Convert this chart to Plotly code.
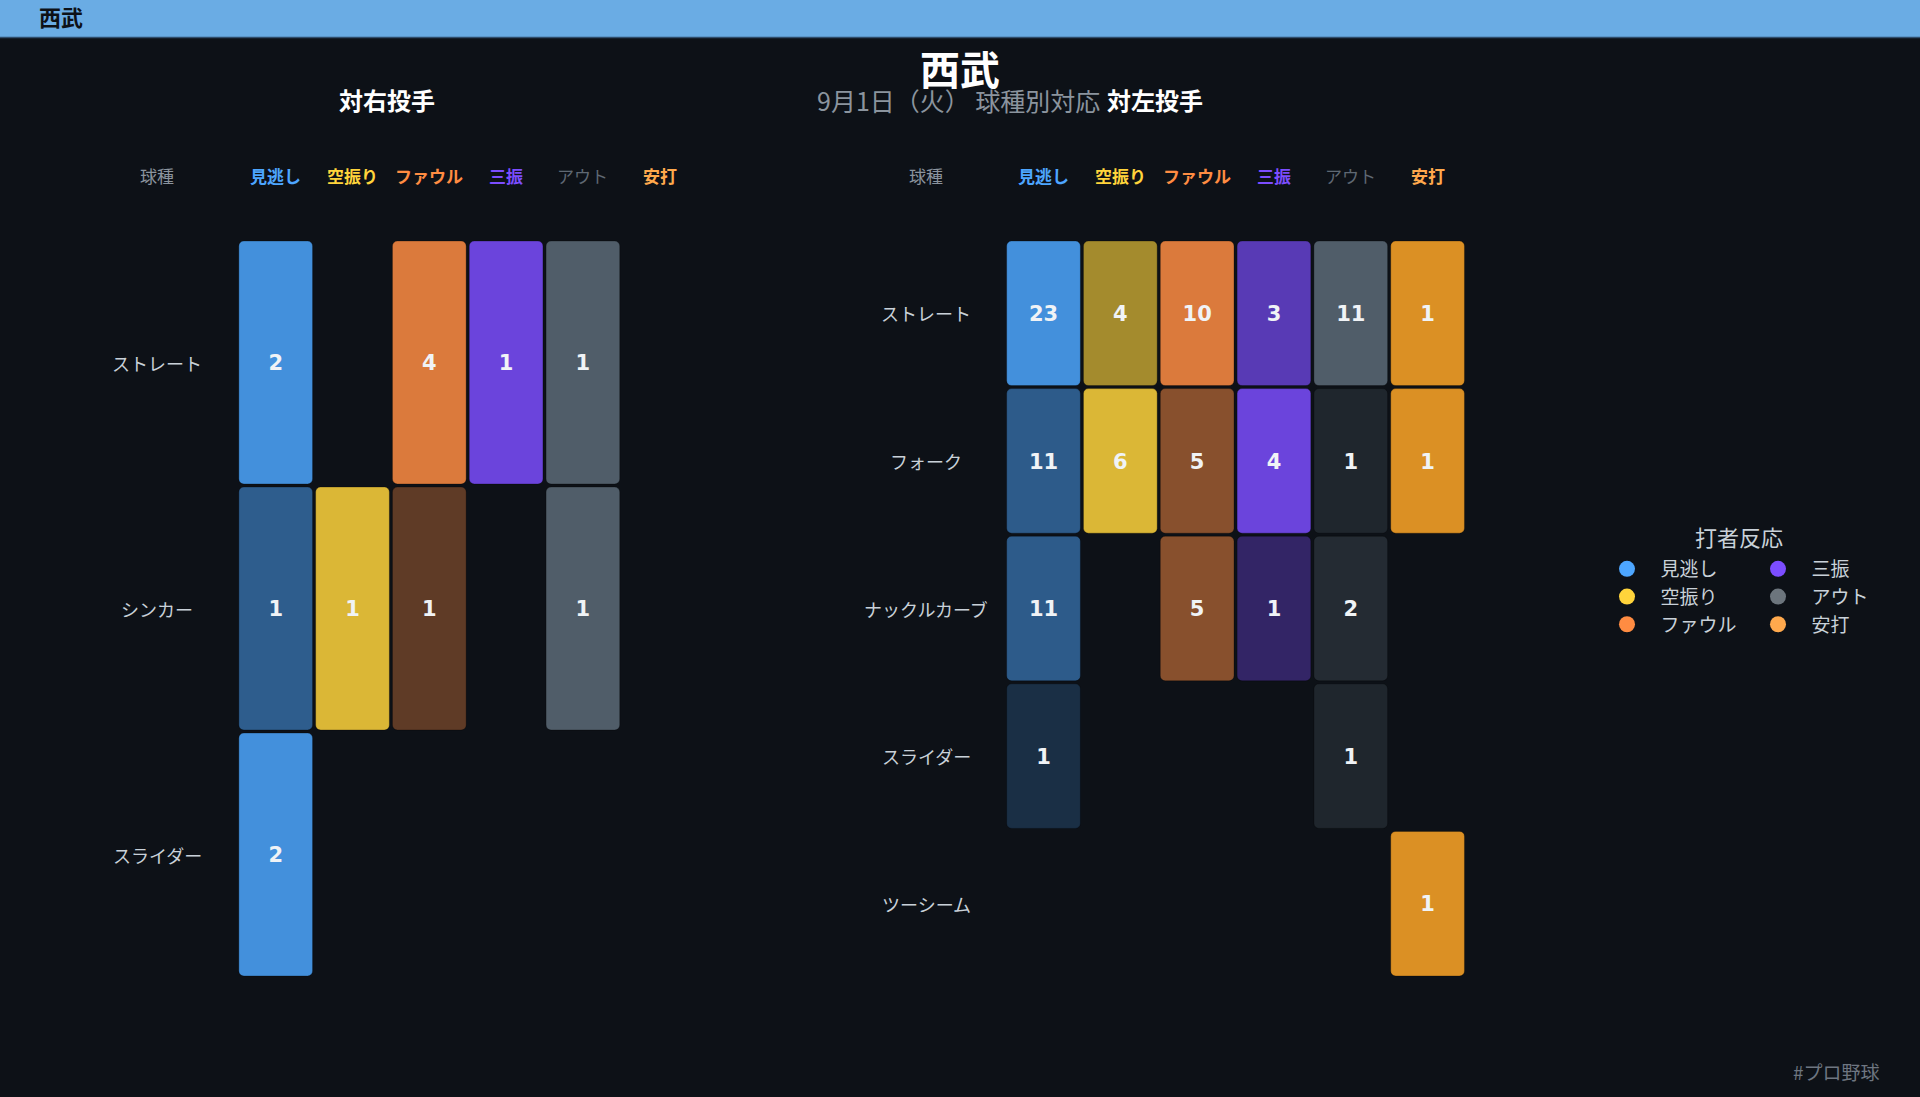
import plotly.graph_objects as go

# ---------------- data ----------------
columns = ["見逃し", "空振り", "ファウル", "三振", "アウト", "安打"]
base_colors = ["#4da6ff", "#ffd43b", "#ff8c42", "#7c4dff", "#5c6a78", "#ffa726"]
legend_colors = ["#4da6ff", "#ffd43b", "#ff8c42", "#7c4dff", "#6c757d", "#ffa94d"]
header_colors = ["#4da6ff", "#ffd43b", "#ff8c42", "#7c4dff", "#5f6873", "#ffa94d"]

right_rows = ["ストレート", "シンカー", "スライダー"]
right_values = [
    [2, None, 4, 1, 1, None],
    [1, 1, 1, None, 1, None],
    [2, None, None, None, None, None],
]

left_rows = ["ストレート", "フォーク", "ナックルカーブ", "スライダー", "ツーシーム"]
left_values = [
    [23, 4, 10, 3, 11, 1],
    [11, 6, 5, 4, 1, 1],
    [11, None, 5, 1, 2, None],
    [1, None, None, None, 1, None],
    [None, None, None, None, None, 1],
]

team = "西武"
subtitle = "9月1日（火） 球種別対応"
panel_titles = ["対右投手", "対左投手"]
legend_title = "打者反応"
footer = "#プロ野球"

# ---------------- style ----------------
W, H = 1920, 1097
BG = "#0d1117"
FONT = "Noto Sans CJK JP"
NUM_FONT = "DejaVu Sans"
grid_top_px, grid_bot_px = 239.5, 977.5
panels_px = [(237.3, 698.1), (1005.1, 1466.0)]
label_x_px = [157, 926]
header_y_px = 175.5
gap_px = 3.0
num_shift_px = 2.5


def hex_rgb(h):
    h = h.lstrip("#")
    return tuple(int(h[i:i + 2], 16) for i in (0, 2, 4))


def blend(base_hex, a):
    b = hex_rgb(BG)
    c = hex_rgb(base_hex)
    r = [round(b[i] * (1 - a) + c[i] * a) for i in range(3)]
    return "rgb(%d,%d,%d)" % tuple(r)


fig = go.Figure()
annotations = []

panels = [(right_rows, right_values, "x", "y"), (left_rows, left_values, "x2", "y2")]

for p, (rows, values, xa, ya) in enumerate(panels):
    n = len(rows)
    pitch_px = (grid_bot_px - grid_top_px) / n
    half = 0.5 - gap_px / 2 / pitch_px
    col_max = [max([r[j] for r in values if r[j] is not None] or [1]) for j in range(len(columns))]
    xs, ys, cols, txt = [], [], [], []
    for i, r in enumerate(values):
        for j, v in enumerate(r):
            if v is None:
                continue
            a = 0.85 * (0.2 + 0.8 * v / col_max[j])
            xs.append(columns[j])
            ys.append(i)
            cols.append(blend(base_colors[j], a))
            txt.append(str(v))
    fig.add_trace(go.Bar(x=xs, y=[2 * half] * len(xs), base=[y - half for y in ys],
                         marker=dict(color=cols, line=dict(width=1, color="rgba(0,0,0,0.28)"),
                                     cornerradius=5),
                         width=0.96, xaxis=xa, yaxis=ya, showlegend=False, hoverinfo="skip"))
    fig.add_trace(go.Scatter(x=xs, y=[y + num_shift_px / pitch_px for y in ys], mode="text", text=txt,
                             textfont=dict(family=NUM_FONT, size=21, color="#f0f3f6", weight="bold"),
                             xaxis=xa, yaxis=ya, showlegend=False, hoverinfo="skip"))
    # row labels
    for i, lab in enumerate(rows):
        annotations.append(dict(text=lab, xref="paper", x=label_x_px[p] / W, yref=ya, y=i,
                                showarrow=False, xanchor="center", yanchor="middle",
                                font=dict(family=FONT, size=18, color="#c9d1d9")))
    # column headers
    annotations.append(dict(text="球種", xref="paper", x=label_x_px[p] / W, yref="paper",
                            y=1 - header_y_px / H, showarrow=False, xanchor="center",
                            yanchor="middle", font=dict(family=FONT, size=17, color="#8b949e")))
    for j, c in enumerate(columns):
        t = c if c == "アウト" else "<b>%s</b>" % c
        annotations.append(dict(text=t, xref=xa, x=c, yref="paper", y=1 - header_y_px / H,
                                showarrow=False, xanchor="center", yanchor="middle",
                                font=dict(family=FONT, size=17, color=header_colors[j])))

# legend entries (two columns)
for j, c in enumerate(columns):
    fig.add_trace(go.Scatter(x=[None], y=[None], mode="markers", name=c,
                             marker=dict(size=20, color=legend_colors[j]),
                             legend="legend" if j < 3 else "legend2",
                             xaxis="x", yaxis="y"))

axis_common = dict(visible=False, showgrid=False, zeroline=False, fixedrange=True)
for p, (rows, values, xa, ya) in enumerate(panels):
    x0, x1 = panels_px[p]
    n = len(rows)
    xkey = "xaxis" if p == 0 else "xaxis2"
    ykey = "yaxis" if p == 0 else "yaxis2"
    fig.update_layout({
        xkey: dict(axis_common, type="category", categoryorder="array", categoryarray=columns,
                   range=[-0.5, len(columns) - 0.5], domain=[x0 / W, x1 / W],
                   anchor=ya),
        ykey: dict(axis_common, range=[n - 0.5, -0.5], domain=[1 - grid_bot_px / H, 1 - grid_top_px / H],
                   anchor=xa),
    })

# titles
annotations += [
    dict(text="<b>%s</b>" % team, xref="paper", x=0.5, yref="paper", y=1 - 68 / H, showarrow=False,
         xanchor="center", yanchor="middle", font=dict(family=FONT, size=40, color="#ffffff")),
    dict(text=subtitle, xref="paper", x=958 / W, yref="paper", y=1 - 100 / H, showarrow=False,
         xanchor="center", yanchor="middle", font=dict(family=FONT, size=25, color="#8b949e")),
    dict(text="<b>%s</b>" % panel_titles[0], xref="paper", x=387 / W, yref="paper", y=1 - 100 / H,
         showarrow=False, xanchor="center", yanchor="middle", font=dict(family=FONT, size=24, color="#ffffff")),
    dict(text="<b>%s</b>" % panel_titles[1], xref="paper", x=1155 / W, yref="paper", y=1 - 100 / H,
         showarrow=False, xanchor="center", yanchor="middle", font=dict(family=FONT, size=24, color="#ffffff")),
    dict(text=legend_title, xref="paper", x=1739 / W, yref="paper", y=1 - 536 / H, showarrow=False,
         xanchor="center", yanchor="middle", font=dict(family=FONT, size=22, color="#c9d1d9")),
    dict(text=footer, xref="paper", x=1836 / W, yref="paper", y=1 - 1071 / H, showarrow=False,
         xanchor="center", yanchor="middle", font=dict(family=FONT, size=19, color="#6e7681")),
    dict(text="<b>%s</b>" % team, xref="paper", x=61 / W, yref="paper", y=1 - 16 / H, showarrow=False,
         xanchor="center", yanchor="middle", font=dict(family=FONT, size=22, color="#0d1117")),
]

shapes = [
    dict(type="rect", xref="paper", yref="paper", x0=0, x1=1, y0=1 - 38 / H, y1=1,
         fillcolor="#6aace4", line=dict(width=0), layer="below"),
    dict(type="line", xref="paper", yref="paper", x0=0, x1=1, y0=1 - 37.5 / H, y1=1 - 37.5 / H,
         line=dict(color="#2f4d6b", width=1.5)),
]

legend_common = dict(orientation="v", xanchor="left", yanchor="top", bgcolor="rgba(0,0,0,0)",
                     font=dict(family=FONT, size=19, color="#c9d1d9"), tracegroupgap=0,
                     itemwidth=57, itemclick=False, itemdoubleclick=False)

fig.update_layout(
    width=W, height=H,
    margin=dict(l=0, r=0, t=0, b=0),
    paper_bgcolor=BG, plot_bgcolor=BG,
    barmode="overlay",
    hovermode=False,
    annotations=annotations,
    shapes=shapes,
    legend=dict(legend_common, x=(1607 - 13.5) / W, y=1 - 550 / H),
    legend2=dict(legend_common, x=(1758 - 13.5) / W, y=1 - 550 / H),
    font=dict(family=FONT, color="#c9d1d9"),
)

fig.write_html("out.html", config={"displayModeBar": False},
               post_script="document.body.style.margin='0';document.body.style.background='#0d1117';"
                           "document.body.style.overflow='hidden';")
